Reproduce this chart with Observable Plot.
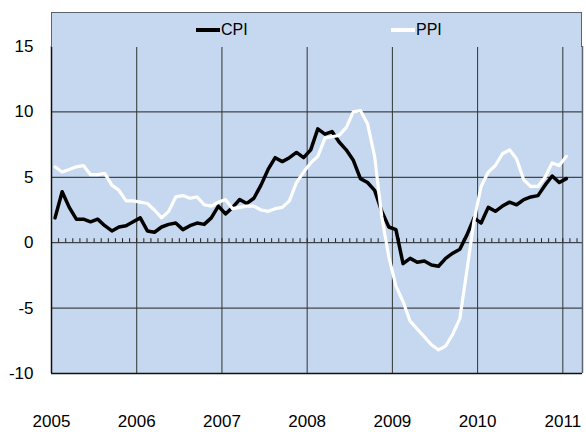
<!DOCTYPE html>
<html><head><meta charset="utf-8">
<script src="https://cdn.jsdelivr.net/npm/d3@7"></script>
<script src="https://cdn.jsdelivr.net/npm/@observablehq/plot@0.6"></script>
<style>
body{margin:0;background:#fff;font-family:"Liberation Sans",Arial,sans-serif;}
#wrap{position:relative;width:586px;height:432px;}
#legend{position:absolute;left:51px;top:12px;width:531px;height:35px;background:#c5d8ef;box-sizing:border-box;border:1.5px solid #5c636c;border-bottom:none;}
.item{position:absolute;top:0;height:34px;display:flex;align-items:center;font-size:16px;color:#000;}
.sw{display:inline-block;width:24px;height:3.5px;margin-right:1px;}
</style></head><body><div id="wrap"><div id="chart"></div><div id="legend"></div></div>
<script>
const startYear = 2005;
const seriesNames = ["CPI", "PPI"];
const seriesColors = ["#000000", "#ffffff"];
const cpi = [1.9, 3.9, 2.7, 1.8, 1.8, 1.6, 1.8, 1.3, 0.9, 1.2, 1.3, 1.6,
             1.9, 0.9, 0.8, 1.2, 1.4, 1.5, 1.0, 1.3, 1.5, 1.4, 1.9, 2.8,
             2.2, 2.7, 3.3, 3.0, 3.4, 4.4, 5.6, 6.5, 6.2, 6.5, 6.9, 6.5,
             7.1, 8.7, 8.3, 8.5, 7.7, 7.1, 6.3, 4.9, 4.6, 4.0, 2.4, 1.2,
             1.0, -1.6, -1.2, -1.5, -1.4, -1.7, -1.8, -1.2, -0.8, -0.5, 0.6, 1.9,
             1.5, 2.7, 2.4, 2.8, 3.1, 2.9, 3.3, 3.5, 3.6, 4.4, 5.1, 4.6,
             4.9];
const ppi = [5.8, 5.4, 5.6, 5.8, 5.9, 5.2, 5.2, 5.3, 4.4, 4.0, 3.2, 3.2,
             3.1, 3.0, 2.5, 1.9, 2.4, 3.5, 3.6, 3.4, 3.5, 2.9, 2.8, 3.1,
             3.3, 2.6, 2.7, 2.8, 2.8, 2.5, 2.4, 2.6, 2.7, 3.2, 4.6, 5.4,
             6.1, 6.6, 8.0, 8.1, 8.2, 8.8, 10.0, 10.1, 9.1, 6.6, 2.0, -1.1,
             -3.3, -4.5, -6.0, -6.6, -7.2, -7.8, -8.2, -7.9, -7.0, -5.8, -2.1, 1.7,
             4.3, 5.4, 5.9, 6.8, 7.1, 6.4, 4.8, 4.3, 4.3, 5.0, 6.1, 5.9,
             6.6];
const yTicks = [-10, -5, 0, 5, 10, 15];
const xYears = [2005, 2006, 2007, 2008, 2009, 2010, 2011];

const rows = cpi.map((v, i) => ({t: startYear + (i + 0.5) / 12, CPI: v, PPI: ppi[i]}));
const xMax = 2011.231;
const monthTicks = d3.range(1, 75).map(k => startYear + k / 12).filter(v => v < xMax);
const bg = "#c5d8ef";

const chart = Plot.plot({
  width: 586, height: 432,
  marginLeft: 51, marginRight: 4, marginTop: 46, marginBottom: 59,
  style: {fontFamily: "'Liberation Sans', Arial, sans-serif", fontSize: "17px", color: "#000", background: "#fff"},
  x: {domain: [startYear, xMax], ticks: xYears, tickFormat: d => String(d), tickSize: 0, tickPadding: 41, label: null},
  y: {domain: [-10, 15], ticks: yTicks, tickFormat: d => String(d), tickSize: 0, tickPadding: 18, label: null},
  marks: [
    Plot.frame({fill: bg, stroke: "none"}),
    Plot.ruleY(yTicks, {stroke: "#222", strokeWidth: 1}),
    Plot.ruleX(xYears.slice(1), {y1: -10, y2: 15, stroke: "#333", strokeWidth: 1}),
    Plot.ruleX(monthTicks, {x: d => d, y1: 0, y2: 0, insetTop: -4, stroke: "#222", strokeWidth: 1}),
    Plot.line(rows, {x: "t", y: seriesNames[0], stroke: seriesColors[0], strokeWidth: 3.5, strokeLinejoin: "round"}),
    Plot.line(rows, {x: "t", y: seriesNames[1], stroke: seriesColors[1], strokeWidth: 3.2, strokeLinejoin: "round"}),
    Plot.ruleX([startYear], {y1: -10, y2: 15, stroke: "#111", strokeWidth: 1.5}),
    Plot.ruleY([-10], {stroke: "#111", strokeWidth: 1.5}),
    Plot.ruleX([xMax], {y1: -10, y2: 15, stroke: "#5c636c", strokeWidth: 1.5})
  ]
});
document.getElementById("chart").appendChild(chart);

const legend = document.getElementById("legend");
const legendLeft = [144, 339];
seriesNames.forEach((name, i) => {
  const it = document.createElement("div");
  it.className = "item";
  it.style.left = legendLeft[i] + "px";
  const sw = document.createElement("span");
  sw.className = "sw";
  sw.style.background = seriesColors[i];
  it.appendChild(sw);
  it.appendChild(document.createTextNode(name));
  legend.appendChild(it);
});
</script>
</body></html>
